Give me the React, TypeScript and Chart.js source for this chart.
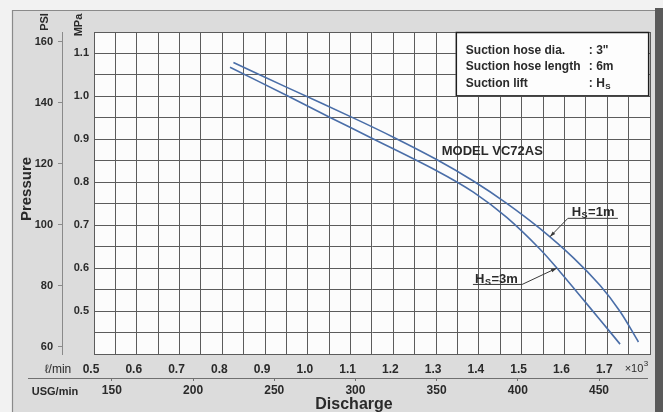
import React, { useEffect, useRef } from "react";
import { Chart, registerables } from "chart.js";

Chart.register(...registerables);

// ---- data (discharge in ℓ/min ×10³, pressure in MPa) ----
const flowHs1 = [0.826, 0.951, 1.106, 1.2, 1.301, 1.387, 1.465, 1.543, 1.621, 1.683, 1.73, 1.773];
const pressHs1 = [1.079, 1.021, 0.95, 0.905, 0.853, 0.803, 0.751, 0.692, 0.624, 0.56, 0.499, 0.428];
const flowHs3 = [0.818, 0.951, 1.052, 1.145, 1.301, 1.387, 1.465, 1.543, 1.59, 1.636, 1.683, 1.73];
const pressHs3 = [1.068, 1.002, 0.951, 0.905, 0.827, 0.777, 0.718, 0.644, 0.591, 0.536, 0.48, 0.423];

// tick labels
const flowLabels = [0.5, 0.6, 0.7, 0.8, 0.9, 1.0, 1.1, 1.2, 1.3, 1.4, 1.5, 1.6, 1.7];
const mpaLabels = [0.5, 0.6, 0.7, 0.8, 0.9, 1.0, 1.1];
const flowRange = [0.5, 1.8];
const mpaRange = [0.4, 1.15];
const psiRange = [57.6, 163.2];
const usgRange = [139.0, 481.4];

// legend box text
const legendRows = [
  ["Suction hose dia.", ': 3"'],
  ["Suction hose length", ": 6m"],
  ["Suction lift", ": H"],
];

// annotation anchors (data coordinates)
const modelLabel = { text: "MODEL VC72AS", x: 1.313, y: 0.873 };
const hs1Label = { suffix: "=1m", x: 1.617, y: 0.721, ulY: 0.716, ulX0: 1.608, ulX1: 1.725, tipX: 1.566, tipY: 0.673 };
const hs3Label = { suffix: "=3m", x: 1.391, y: 0.565, ulY: 0.562, ulX0: 1.386, ulX1: 1.501, tipX: 1.582, tipY: 0.6 };
const legendBox = { x0: 1.346, x1: 1.798, y0: 1.15, y1: 1.0 };

const FONT = "'Liberation Sans', Arial, Helvetica, sans-serif";
const GRID = "#5c5c5c";
const TXT = "#2a2a2a";
const CURVE = "#4a6ea8";

const near = (v: number, arr: number[]) => arr.some((a) => Math.abs(a - v) < 1e-6);

function drawHs(ctx: CanvasRenderingContext2D, x: number, y: number, suffix: string, size: number) {
  ctx.save();
  ctx.textBaseline = "alphabetic";
  ctx.textAlign = "left";
  ctx.font = `bold ${size}px ${FONT}`;
  ctx.fillText("H", x, y);
  let cx = x + ctx.measureText("H").width;
  ctx.font = `bold ${Math.round(size * 0.68)}px ${FONT}`;
  ctx.fillText("S", cx + 0.5, y + 2);
  cx += ctx.measureText("S").width + 1;
  ctx.font = `bold ${size}px ${FONT}`;
  ctx.fillText(suffix, cx, y);
  ctx.restore();
}

function arrow(ctx: CanvasRenderingContext2D, x0: number, y0: number, x1: number, y1: number) {
  ctx.save();
  ctx.strokeStyle = "#3a3a3a";
  ctx.fillStyle = "#3a3a3a";
  ctx.lineWidth = 1;
  ctx.beginPath();
  ctx.moveTo(x0, y0);
  ctx.lineTo(x1, y1);
  ctx.stroke();
  const a = Math.atan2(y1 - y0, x1 - x0);
  ctx.beginPath();
  ctx.moveTo(x1, y1);
  ctx.lineTo(x1 - 6 * Math.cos(a - 0.3), y1 - 6 * Math.sin(a - 0.3));
  ctx.lineTo(x1 - 6 * Math.cos(a + 0.3), y1 - 6 * Math.sin(a + 0.3));
  ctx.closePath();
  ctx.fill();
  ctx.restore();
}

const deco = {
  id: "deco",
  beforeDraw(chart: any) {
    const { ctx, width, height, chartArea: ca } = chart;
    ctx.save();
    ctx.fillStyle = "#f2f2f2";
    ctx.fillRect(0, 0, width, height);
    ctx.fillStyle = "#dcdcdc";
    ctx.fillRect(12, 10, 643, height - 10);
    ctx.strokeStyle = "#8a8a8a";
    ctx.lineWidth = 1.2;
    ctx.beginPath();
    ctx.moveTo(12.5, height);
    ctx.lineTo(12.5, 10.5);
    ctx.lineTo(655, 10.5);
    ctx.stroke();
    ctx.fillStyle = "#5a5a5a";
    ctx.fillRect(655, 8, width - 655, height - 8);
    ctx.fillStyle = "#fcfcfc";
    ctx.fillRect(ca.left, ca.top, ca.right - ca.left, ca.bottom - ca.top);
    ctx.restore();
  },
  afterDraw(chart: any) {
    const { ctx } = chart;
    const xs = chart.scales.x;
    const ys = chart.scales.y;
    const usg = chart.scales.usg;
    const px = (v: number) => xs.getPixelForValue(v);
    const py = (v: number) => ys.getPixelForValue(v);
    ctx.save();
    ctx.fillStyle = TXT;

    // legend box
    const bx0 = px(legendBox.x0), bx1 = px(legendBox.x1), by0 = py(legendBox.y0), by1 = py(legendBox.y1);
    ctx.fillStyle = "#fdfdfd";
    ctx.fillRect(bx0, by0, bx1 - bx0, by1 - by0);
    ctx.strokeStyle = "#1e1e1e";
    ctx.lineWidth = 1.5;
    ctx.strokeRect(bx0 + 0.5, by0 + 0.5, bx1 - bx0 - 1, by1 - by0 - 1);
    ctx.fillStyle = TXT;
    ctx.font = `bold 12px ${FONT}`;
    ctx.textBaseline = "alphabetic";
    ctx.textAlign = "left";
    legendRows.forEach(([label, val], i) => {
      const y = by0 + 21.5 + i * 16.5;
      ctx.fillText(label, bx0 + 10, y);
      if (i === 2) {
        ctx.fillText(": ", bx0 + 133, y);
        drawHs(ctx, bx0 + 133 + ctx.measureText(": ").width, y, "", 12);
      } else {
        ctx.fillText(val, bx0 + 133, y);
      }
    });

    // model label
    ctx.font = `bold 13px ${FONT}`;
    ctx.textBaseline = "middle";
    ctx.fillText(modelLabel.text, px(modelLabel.x), py(modelLabel.y));

    // Hs annotations
    for (const L of [hs1Label, hs3Label]) {
      ctx.fillStyle = TXT;
      drawHs(ctx, px(L.x), py(L.y), L.suffix, 13);
      ctx.strokeStyle = "#3a3a3a";
      ctx.lineWidth = 1;
      ctx.beginPath();
      ctx.moveTo(px(L.ulX0), py(L.ulY));
      ctx.lineTo(px(L.ulX1), py(L.ulY));
      ctx.stroke();
    }
    arrow(ctx, px(hs1Label.ulX0), py(hs1Label.ulY), px(hs1Label.tipX), py(hs1Label.tipY));
    arrow(ctx, px(hs3Label.ulX1), py(hs3Label.ulY), px(hs3Label.tipX), py(hs3Label.tipY));

    // axis separator line between ℓ/min and USG
    ctx.strokeStyle = "#707070";
    ctx.lineWidth = 1;
    ctx.beginPath();
    ctx.moveTo(28, Math.round(usg.top) + 0.5);
    ctx.lineTo(648, Math.round(usg.top) + 0.5);
    ctx.stroke();

    // unit labels
    ctx.fillStyle = TXT;
    ctx.textBaseline = "middle";
    ctx.textAlign = "center";
    ctx.font = `12px ${FONT}`;
    ctx.fillText("ℓ/min", 58, 370);
    ctx.font = `bold 11px ${FONT}`;
    ctx.fillText("USG/min", 55, 392);
    ctx.font = `11px ${FONT}`;
    ctx.fillText("×10", 634, 369);
    ctx.font = `8px ${FONT}`;
    ctx.fillText("3", 646, 364);
    ctx.font = `bold 16px ${FONT}`;
    ctx.fillText("Discharge", 354, 405);

    // rotated titles
    const rot = (text: string, x: number, y: number, font: string) => {
      ctx.save();
      ctx.translate(x, y);
      ctx.rotate(-Math.PI / 2);
      ctx.font = font;
      ctx.textAlign = "center";
      ctx.textBaseline = "middle";
      ctx.fillText(text, 0, 0);
      ctx.restore();
    };
    rot("PSI", 45, 22, `bold 11px ${FONT}`);
    rot("MPa", 79, 25, `bold 11px ${FONT}`);
    rot("Pressure", 27, 189, `bold 15px ${FONT}`);
    ctx.restore();
  },
};

export default function App() {
  const ref = useRef<HTMLCanvasElement | null>(null);
  useEffect(() => {
    document.body.style.margin = "0";
    const canvas = ref.current!;
    const tickFont = { family: FONT, size: 11, weight: "bold" as const };
    const curve = (label: string, xs: number[], ys: number[]) => ({
      label,
      data: xs.map((x, i) => ({ x, y: ys[i] })),
      showLine: true,
      borderColor: CURVE,
      borderWidth: 1.6,
      pointRadius: 0,
      tension: 0.35,
      xAxisID: "x",
      yAxisID: "y",
    });
    const chart = new Chart(canvas, {
      type: "scatter",
      data: {
        datasets: [curve("Hs=1m", flowHs1, pressHs1), curve("Hs=3m", flowHs3, pressHs3)],
      },
      options: {
        responsive: false,
        animation: false,
        devicePixelRatio: 1,
        layout: { padding: { left: 30, top: 32, right: 13, bottom: 12 } },
        plugins: { legend: { display: false }, tooltip: { enabled: false } },
        scales: {
          x: {
            type: "linear",
            position: "bottom",
            min: flowRange[0],
            max: flowRange[1],
            weight: 0,
            afterFit: (s: any) => {
              s.height = 24;
            },
            grid: { color: GRID, lineWidth: 1, drawTicks: false },
            border: { display: true, color: GRID },
            ticks: {
              stepSize: 0.05,
              autoSkip: false,
              maxRotation: 0,
              minRotation: 0,
              padding: 8,
              labelOffset: -3,
              color: TXT,
              font: { family: FONT, size: 12, weight: "bold" },
              callback: (v: any) => (near(Number(v), flowLabels) ? Number(v).toFixed(1) : ""),
            },
          },
          usg: {
            type: "linear",
            position: "bottom",
            min: usgRange[0],
            max: usgRange[1],
            weight: 1,
            afterFit: (s: any) => {
              s.height = 22;
            },
            grid: { drawOnChartArea: false, drawTicks: true, tickLength: 3, color: "#707070" },
            border: { display: false },
            ticks: {
              stepSize: 50,
              includeBounds: false,
              autoSkip: false,
              maxRotation: 0,
              minRotation: 0,
              padding: 2,
              color: TXT,
              font: { family: FONT, size: 12, weight: "bold" },
            },
          },
          y: {
            type: "linear",
            position: "left",
            min: mpaRange[0],
            max: mpaRange[1],
            weight: 0,
            afterFit: (s: any) => {
              s.width = 32;
            },
            grid: { color: GRID, lineWidth: 1, drawTicks: false },
            border: { display: true, color: GRID },
            ticks: {
              stepSize: 0.05,
              autoSkip: false,
              padding: 5,
              color: TXT,
              font: tickFont,
              callback: (v: any) => (near(Number(v), mpaLabels) ? Number(v).toFixed(1) : ""),
            },
          },
          psi: {
            type: "linear",
            position: "left",
            min: psiRange[0],
            max: psiRange[1],
            weight: 1,
            afterFit: (s: any) => {
              s.width = 32;
            },
            grid: { drawOnChartArea: false, drawTicks: true, tickLength: 4, color: "#8a8a8a" },
            border: { display: true, color: "#8a8a8a" },
            ticks: {
              stepSize: 20,
              includeBounds: false,
              autoSkip: false,
              padding: 5,
              color: TXT,
              font: tickFont,
            },
          },
        },
      },
      plugins: [deco],
    } as any);
    return () => chart.destroy();
  }, []);
  return (
    <div style={{ width: 663, height: 412 }}>
      <canvas ref={ref} width={663} height={412} style={{ display: "block", width: 663, height: 412 }} />
    </div>
  );
}
